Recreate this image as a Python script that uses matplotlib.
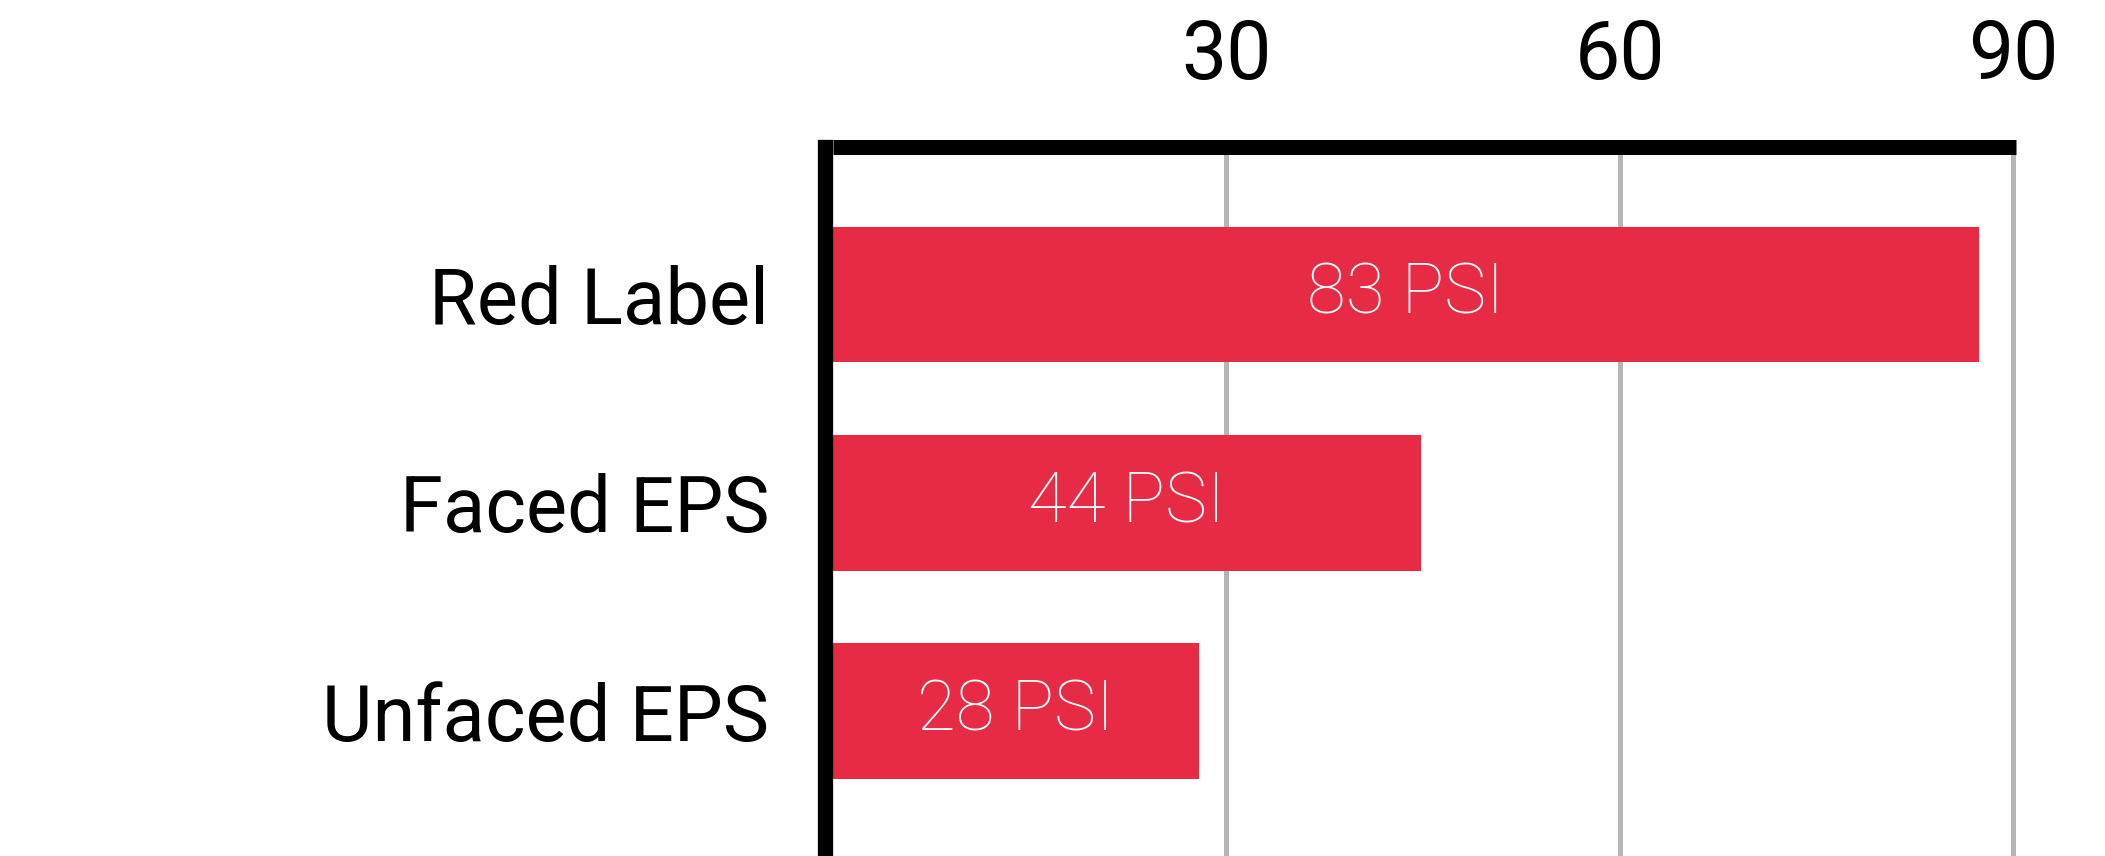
import matplotlib
matplotlib.use("Agg")
import matplotlib.pyplot as plt

# data
categories = ["Red Label", "Faced EPS", "Unfaced EPS"]
bar_lengths = [87.4, 44.8, 27.9]
psi_values = [83, 44, 28]
x_ticks = [30, 60, 90]

RED = "#e72b45"
GRID = "#b5b5b5"

def main():
    plt.rcParams['font.family'] = ['Roboto', 'DejaVu Sans']

    W, H = 2105, 856
    fig = plt.figure(figsize=(W / 100, H / 100), dpi=100)
    left, right, top = 833, 2016, 146.5
    ax = fig.add_axes([left / W, 0, (right - left) / W, 1 - top / H])

    ypos = list(range(len(categories)))
    ax.barh(ypos, bar_lengths, height=0.65, color=RED, zorder=2)

    for y, v, l in zip(ypos, psi_values, bar_lengths):
        ax.text(l / 2, y, f"{v} PSI", color="white", fontsize=51,
                fontweight=100, ha="center", va="center", zorder=3)

    ax.set_xlim(0, 90.2)
    ax.set_ylim(2.695, -0.71)

    ax.xaxis.tick_top()
    ax.set_xticks(x_ticks)
    ax.set_xticklabels([str(t) for t in x_ticks])
    ax.set_yticks(ypos)
    ax.set_yticklabels(categories)
    ax.tick_params(axis="x", length=0, pad=36, labelsize=58)
    ax.tick_params(axis="y", length=0, pad=40, labelsize=56)

    ax.xaxis.grid(True, color=GRID, linewidth=3.6)
    ax.set_axisbelow(True)

    for s in ["right", "bottom"]:
        ax.spines[s].set_visible(False)
    ax.spines["left"].set_position(("outward", 6))
    ax.spines["left"].set_linewidth(11)
    ax.spines["top"].set_linewidth(10.8)
    ax.spines["top"].set_capstyle("butt")
    ax.spines["left"].set_zorder(4)
    ax.spines["top"].set_zorder(4)

    fig.savefig("out.png", dpi=100, facecolor="white")

if __name__ == '__main__':
    main()
